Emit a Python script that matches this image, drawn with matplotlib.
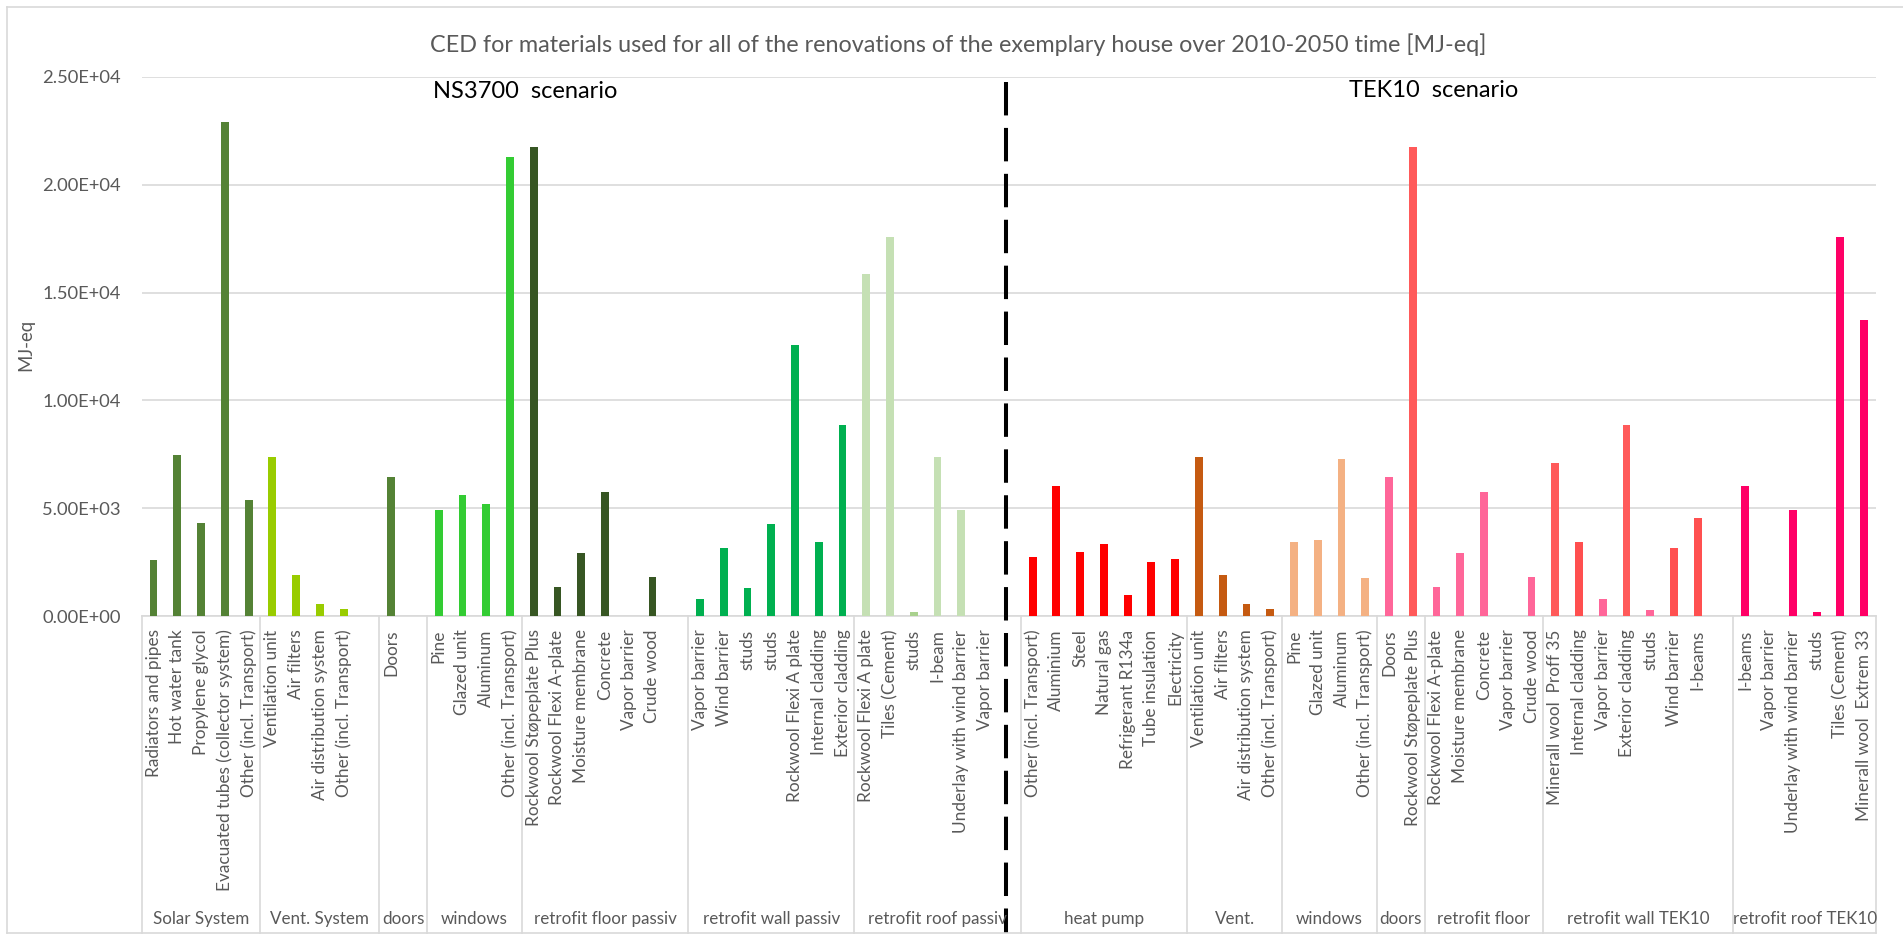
import numpy as np
import matplotlib
matplotlib.use('Agg')
import matplotlib.pyplot as plt
from matplotlib import transforms
from matplotlib.lines import Line2D
from matplotlib.ticker import FuncFormatter

plt.rcParams['font.family'] = ['Lato', 'DejaVu Sans']

# -----------------------
# data
# -----------------------
group_names = ['Solar System', 'Vent. System', 'doors', 'windows', 'retrofit floor passiv',
               'retrofit wall passiv', 'retrofit roof passiv',
               'heat pump', 'Vent.', 'windows', 'doors', 'retrofit floor',
               'retrofit wall TEK10', 'retrofit roof TEK10']
group_sizes = [5, 5, 2, 4, 7, 7, 7, 7, 4, 4, 2, 5, 8, 6]

labels = [
    # NS3700
    'Radiators and pipes', 'Hot water tank', 'Propylene glycol', 'Evacuated tubes (collector system)', 'Other (incl. Transport)',
    'Ventilation unit', 'Air filters', 'Air distribution system', 'Other (incl. Transport)', '',
    'Doors', '',
    'Pine', 'Glazed unit', 'Aluminum', 'Other (incl. Transport)',
    'Rockwool Støpeplate Plus', 'Rockwool Flexi A-plate', 'Moisture membrane', 'Concrete', 'Vapor barrier', 'Crude wood', '',
    'Vapor barrier', 'Wind barrier', 'studs', 'studs', 'Rockwool Flexi A plate', 'Internal cladding', 'Exterior cladding',
    'Rockwool Flexi A plate', 'Tiles (Cement)', 'studs', 'I-beam', 'Underlay with wind barrier', 'Vapor barrier', '',
    # TEK10
    'Other (incl. Transport)', 'Aluminium', 'Steel', 'Natural gas', 'Refrigerant R134a', 'Tube insulation', 'Electricity',
    'Ventilation unit', 'Air filters', 'Air distribution system', 'Other (incl. Transport)',
    'Pine', 'Glazed unit', 'Aluminum', 'Other (incl. Transport)',
    'Doors', 'Rockwool Støpeplate Plus',
    'Rockwool Flexi A-plate', 'Moisture membrane', 'Concrete', 'Vapor barrier', 'Crude wood',
    'Minerall wool  Proff 35', 'Internal cladding', 'Vapor barrier', 'Exterior cladding', 'studs', 'Wind barrier', 'I-beams', '',
    'I-beams', 'Vapor barrier', 'Underlay with wind barrier', 'studs', 'Tiles (Cement)', 'Minerall wool  Extrem 33',
]

values = [
    2600, 7450, 4330, 22900, 5380,
    7375, 1910, 567, 340, 0,
    6448, 0,
    4936, 5616, 5200, 21274,
    21747, 1362, 2931, 5768, 0, 1815, 0,
    794, 3158, 1305, 4274, 12575, 3442, 8869,
    15865, 17567, 208, 7375, 4936, 0, 0,
    2742, 6032, 2988, 3347, 983, 2515, 2647,
    7375, 1910, 567, 340,
    3442, 3536, 7280, 1778,
    6448, 21747,
    1362, 2931, 5768, 0, 1815,
    7100, 3440, 797, 8865, 295, 3160, 4550, 0,
    6033, 0, 4925, 200, 17567, 13729,
]

title = 'CED for materials used for all of the renovations of the exemplary house over 2010-2050 time [MJ-eq]'

# -----------------------
# styles
# -----------------------
group_colors = ['#548235', '#99cc00', '#548235', '#33cc33', '#375623', '#00b050', '#c5e0b4',
                '#ff0000', '#c55a11', '#f4b183', '#ff6699', '#ff6699', '#ff5a5a', '#ff0066']
bar_colors = []
for c, n in zip(group_colors, group_sizes):
    bar_colors += [c] * n
# single bars that differ from their group colour
bar_colors[32] = '#a9d18e'
bar_colors[53] = '#ff5a5a'
bar_colors[60] = '#ff4f4f'
bar_colors[61] = '#ff6699'
bar_colors[63] = '#ff6699'
bar_colors[64] = '#ff5050'
bar_colors[65] = '#ff5050'

GRID = '#d9d9d9'
TXT = '#595959'
W, H = 1903, 934

fig = plt.figure(figsize=(W / 100, H / 100), dpi=100)
renderer = fig.canvas.get_renderer()


def fit_size(s, target_px):
    """font size that gives string s a width of target_px pixels"""
    t = fig.text(0, 0, s, fontsize=10)
    w = t.get_window_extent(renderer).width
    t.remove()
    return 10 * target_px / w


title_fs = fit_size(title, 1057)
scen_fs = fit_size('NS3700  scenario', 184)
cat_fs = fit_size('Evacuated tubes (collector system)', 262)
tick_fs = fit_size('2.50E+04', 79)
group_fs = fit_size('Solar System', 96)
ylab_fs = fit_size('MJ-eq', 52)

ax_l, ax_r, ax_b, ax_t = 141.7, 1876, 616.2, 76.7
ax = fig.add_axes([ax_l / W, 1 - ax_b / H, (ax_r - ax_l) / W, (ax_b - ax_t) / H])

x = np.arange(len(values))
ax.bar(x, values, width=0.33, color=bar_colors, zorder=3)

ax.set_xlim(-0.5, len(values) - 0.5)
ax.set_ylim(0, 25000)
ax.set_yticks(np.arange(0, 25001, 5000))
ax.yaxis.set_major_formatter(FuncFormatter(lambda v, p: f'{v:.2E}'))
ax.grid(axis='y', color=GRID, lw=1.2, zorder=0)
for s in ['top', 'right', 'left']:
    ax.spines[s].set_visible(False)
ax.spines['bottom'].set_color(GRID)
ax.spines['bottom'].set_linewidth(1.2)
ax.tick_params(axis='y', length=0, pad=15, labelsize=tick_fs, labelcolor=TXT)
ax.tick_params(axis='x', length=0, pad=9.5, labelsize=cat_fs, labelcolor=TXT)
ax.set_xticks(x)
ax.set_xticklabels(labels, rotation=90, va='top', ha='center')
fig.text(26 / W, 1 - 345 / H, 'MJ-eq', rotation=90, ha='center', va='center',
         fontsize=ylab_fs, color=TXT)

# group boundaries and group labels below the category labels
tr = transforms.blended_transform_factory(ax.transData, fig.transFigure)
y_top = 1 - ax_b / H
y_bot = 1 - 933 / H
edges = np.concatenate([[0], np.cumsum(group_sizes)]) - 0.5
for e in edges:
    fig.add_artist(Line2D([e, e], [y_top, y_bot], transform=tr, color=GRID, lw=1.2))
for name, a, b in zip(group_names, edges[:-1], edges[1:]):
    fig.text((a + b) / 2, 1 - 919 / H, name, transform=tr, ha='center', va='center',
             fontsize=group_fs, color=TXT)

# divider between the two scenarios
fig.add_artist(Line2D([35.9, 35.9], [1 - 81.6 / H, y_bot], transform=tr, color='black',
                      lw=2.9, dashes=(8.3, 3.1)))

# chart frame (left, top, bottom; right side is cut off in the original)
fx0, fy0 = 7 / W, 1 - 7 / H
fig.add_artist(Line2D([fx0, fx0], [fy0, y_bot], transform=fig.transFigure, color=GRID, lw=1.2))
fig.add_artist(Line2D([fx0, 1], [fy0, fy0], transform=fig.transFigure, color=GRID, lw=1.2))
fig.add_artist(Line2D([fx0, ax_r / W], [y_bot, y_bot], transform=fig.transFigure, color=GRID, lw=1.2))

fig.text(958 / W, 1 - 44.7 / H, title, ha='center', va='center', fontsize=title_fs, color=TXT)
fig.text(432.7 / W, 1 - 91.7 / H, 'NS3700  scenario', ha='left', va='center', fontsize=scen_fs, color='black')
fig.text(1349.3 / W, 1 - 90 / H, 'TEK10  scenario', ha='left', va='center', fontsize=scen_fs, color='black')

fig.savefig('out.png', dpi=100)
